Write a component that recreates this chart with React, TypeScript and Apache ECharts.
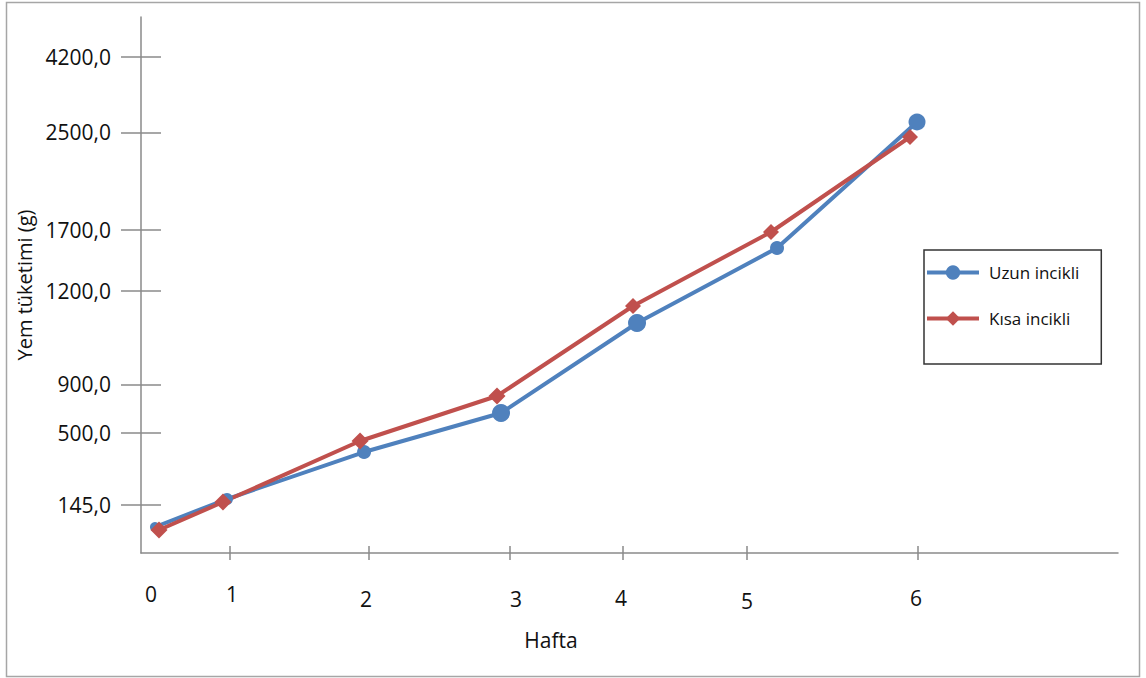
import React, { useEffect, useRef } from "react";
import * as echarts from "echarts";

// Axis tick labels and their positions on the drawn axes (axis runs 0..100)
const weekLabels = ["0", "1", "2", "3", "4", "5", "6"];
const weekLabelPos = [1.02, 9.31, 23.03, 38.38, 49.13, 62.03, 79.32];
const weekTickPos = [9.11, 23.34, 37.77, 49.33, 62.03, 79.53];

const gramLabels = ["145,0", "500,0", "900,0", "1200,0", "1700,0", "2500,0", "4200,0"];
const gramTickPos = [8.96, 22.39, 31.47, 48.88, 60.26, 78.49, 92.59];

const uzunX = [1.43, 8.8, 22.83, 36.85, 50.77, 65.1, 79.43];
const uzunY = [4.85, 10.07, 18.84, 26.12, 42.91, 56.9, 80.41];
const kisaX = [1.84, 8.39, 22.42, 36.44, 50.36, 64.48, 78.71];
const kisaY = [4.29, 9.51, 20.9, 29.29, 46.08, 59.89, 77.61];

const seriesNames = ["Uzun incikli", "Kısa incikli"];

// styling
const uzunSizes = [10, 12, 14, 18, 18, 14, 17];
const kisaSizes = [17, 17, 17, 17, 16, 16, 16];
const labelNudge = [0, 0, 5, 5, 4, 7, 4];

const FONT = "Open Sans";
const BLUE = "#4F81BD";
const RED = "#C0504D";
const AXIS = "#8a8a8a";
const TEXT = "#111";

function nearestIndex(arr: number[], v: number) {
  let best = 0;
  for (let i = 1; i < arr.length; i++) {
    if (Math.abs(arr[i] - v) < Math.abs(arr[best] - v)) best = i;
  }
  return best;
}

export default function App() {
  const ref = useRef<HTMLDivElement>(null);

  useEffect(() => {
    document.body.style.margin = "0";
    const chart = echarts.init(ref.current!, null, { renderer: "svg" });

    const rich: any = {};
    labelNudge.forEach((n, i) => {
      rich["w" + i] = {
        fontFamily: FONT,
        fontSize: 21,
        color: TEXT,
        padding: [n, 0, 0, 0],
      };
    });

    const option: any = {
      animation: false,
      backgroundColor: "#fff",
      grid: { left: 141, top: 17, right: 28, bottom: 125 },
      xAxis: [
        {
          type: "value",
          min: 0,
          max: 100,
          position: "bottom",
          name: "Hafta",
          nameLocation: "middle",
          nameGap: 76,
          nameTextStyle: {
            fontFamily: FONT,
            fontSize: 21,
            color: TEXT,
            padding: [0, 157, 0, 0],
          },
          axisLine: { show: true, lineStyle: { color: AXIS, width: 1.5 } },
          axisTick: {
            show: true,
            length: 7,
            customValues: weekTickPos,
            lineStyle: { color: AXIS, width: 1.5 },
          },
          axisLabel: {
            customValues: weekLabelPos,
            margin: 30,
            formatter: (v: number) => {
              const i = nearestIndex(weekLabelPos, v);
              return `{w${i}|${weekLabels[i]}}`;
            },
            rich,
          },
          splitLine: { show: false },
        },
        {
          type: "value",
          min: 0,
          max: 100,
          position: "bottom",
          axisLine: { show: false },
          axisLabel: { show: false },
          axisTick: {
            show: true,
            inside: true,
            length: 7,
            customValues: weekTickPos,
            lineStyle: { color: AXIS, width: 1.5 },
          },
          splitLine: { show: false },
        },
      ],
      yAxis: [
        {
          type: "value",
          min: 0,
          max: 100,
          position: "left",
          name: "Yem tüketimi (g)",
          nameLocation: "middle",
          nameGap: 105,
          nameTextStyle: { fontFamily: FONT, fontSize: 20, color: TEXT },
          axisLine: { show: true, lineStyle: { color: AXIS, width: 1.5 } },
          axisTick: {
            show: true,
            length: 20,
            customValues: gramTickPos,
            lineStyle: { color: AXIS, width: 1.5 },
          },
          axisLabel: {
            customValues: gramTickPos,
            margin: 30,
            fontFamily: FONT,
            fontSize: 21,
            color: TEXT,
            formatter: (v: number) => gramLabels[nearestIndex(gramTickPos, v)],
          },
          splitLine: { show: false },
        },
        {
          type: "value",
          min: 0,
          max: 100,
          position: "left",
          axisLine: { show: false },
          axisLabel: { show: false },
          axisTick: {
            show: true,
            inside: true,
            length: 20,
            customValues: gramTickPos,
            lineStyle: { color: AXIS, width: 1.5 },
          },
          splitLine: { show: false },
        },
      ],
      legend: {
        orient: "vertical",
        left: 924,
        top: 250,
        padding: [14, 22, 37, 1],
        itemWidth: 52,
        itemHeight: 18,
        itemGap: 29,
        borderColor: "#333",
        borderWidth: 1.5,
        backgroundColor: "#fff",
        lineStyle: { width: 4 },
        textStyle: {
          fontFamily: FONT,
          fontSize: 17,
          color: TEXT,
          padding: [0, 0, 0, 5],
        },
        data: seriesNames,
      },
      graphic: [
        {
          type: "rect",
          silent: true,
          z: -10,
          shape: { x: 6.5, y: 2.5, width: 1133, height: 674 },
          style: { fill: "none", stroke: "#a6a6a6", lineWidth: 1.5 },
        },
      ],
      series: [
        {
          name: seriesNames[0],
          type: "line",
          xAxisIndex: 0,
          yAxisIndex: 0,
          symbol: "circle",
          symbolSize: 14,
          lineStyle: { color: BLUE, width: 4 },
          itemStyle: { color: BLUE },
          data: uzunX.map((x, i) => ({
            value: [x, uzunY[i]],
            symbolSize: uzunSizes[i],
          })),
        },
        {
          name: seriesNames[1],
          type: "line",
          xAxisIndex: 0,
          yAxisIndex: 0,
          symbol: "diamond",
          symbolSize: 14,
          lineStyle: { color: RED, width: 4 },
          itemStyle: { color: RED },
          data: kisaX.map((x, i) => ({
            value: [x, kisaY[i]],
            symbolSize: kisaSizes[i],
          })),
        },
      ],
    };

    chart.setOption(option);
    return () => chart.dispose();
  }, []);

  return <div ref={ref} style={{ width: 1146, height: 678 }} />;
}
